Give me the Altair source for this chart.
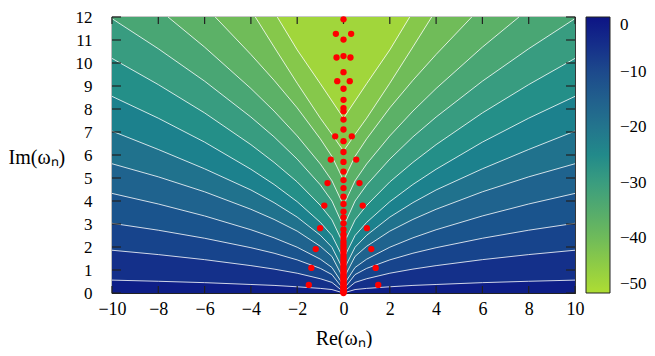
import altair as alt
import pandas as pd

# ---------------- data ----------------
X_TICKS = [-10, -8, -6, -4, -2, 0, 2, 4, 6, 8, 10]
Y_TICKS = [0, 1, 2, 3, 4, 5, 6, 7, 8, 9, 10, 11, 12]
CB_TICKS = [0, -10, -20, -30, -40, -50]

# contour lines, left half (right half is the mirror image), from the axis outwards
C01 = [(0, 0.0), (-0.5, 0.15), (-1, 0.20), (-2, 0.27), (-3, 0.33), (-4, 0.37), (-6, 0.45), (-8, 0.51), (-10, 0.56)]
C02 = [(0, 0.05), (-0.5, 0.46), (-1, 0.62), (-2, 0.86), (-3, 1.04), (-4, 1.19), (-6, 1.45), (-8, 1.67), (-10, 1.86)]
C03 = [(0, 0.16), (-0.5, 0.80), (-1, 1.07), (-2, 1.44), (-3, 1.73), (-4, 1.97), (-6, 2.38), (-8, 2.73), (-10, 3.03)]
C04 = [(0, 0.34), (-0.5, 1.11), (-1, 1.47), (-2, 1.99), (-3, 2.40), (-4, 2.75), (-6, 3.35), (-8, 3.87), (-10, 4.33)]
C05 = [(0, 0.62), (-0.5, 1.59), (-1, 2.03), (-2, 2.69), (-3, 3.20), (-4, 3.64), (-6, 4.40), (-8, 5.05), (-10, 5.62)]
C06 = [(0, 0.99), (-0.5, 1.99), (-1, 2.51), (-2, 3.30), (-3, 3.93), (-4, 4.48), (-6, 5.40), (-8, 6.24), (-10, 7.04)]
C07 = [(0, 1.49), (-0.5, 2.50), (-1, 3.07), (-2, 3.97), (-3, 4.72), (-4, 5.38), (-6, 6.56), (-8, 7.60), (-10, 8.55)]
C08 = [(0, 2.12), (-0.5, 3.18), (-1, 3.81), (-2, 4.83), (-3, 5.68), (-4, 6.45), (-6, 7.83), (-8, 9.06), (-10, 10.20)]
C09 = [(0, 2.89), (-0.5, 4.00), (-1, 4.70), (-2, 5.82), (-3, 6.79), (-4, 7.65), (-6, 9.21), (-8, 10.62), (-10, 11.93)]
C10 = [(0, 3.81), (-0.5, 4.88), (-1, 5.61), (-2, 6.83), (-3, 7.91), (-4, 8.89), (-6, 10.69), (-7.58, 12.0)]
C11 = [(0, 4.90), (-0.5, 5.94), (-1, 6.70), (-2, 8.05), (-3, 9.25), (-4, 10.37), (-5.54, 12.0)]
C12 = [(0, 6.17), (-0.5, 6.90), (-1, 7.60), (-2, 9.12), (-3, 10.70), (-3.81, 12.0)]
C13 = [(0, 7.60), (-0.5, 8.35), (-1, 9.10), (-2, 10.57), (-2.86, 12.0)]
CONTOURS = [C01, C02, C03, C04, C05, C06, C07, C08, C09, C10, C11, C12, C13]

# field value of the band lying above each contour, and below the first one
BASE_VALUE = -1.75
BAND_VALUES = [-5.25, -8.75, -12.25, -15.75, -19.25, -22.75, -26.25, -29.75,
               -33.25, -36.75, -40.25, -43.75, -48.0]

# colour bar
CMAP_VALUES = [-50, -45, -40, -35, -30, -25, -20, -15, -10, -5, 0]
CMAP_COLORS = ["#aedd33", "#8fcc45", "#6fbb5a", "#54ab6d", "#3a9d7f", "#228a8a",
               "#23758d", "#21608d", "#1d4a8c", "#152e8a", "#0d1485"]

# red points
AXIS_POINTS_Y = [11.90, 11.02, 10.30, 9.60, 8.88, 8.40, 8.04, 7.90, 7.54, 7.11, 6.60, 6.13,
                 5.70, 5.28, 4.91, 4.56, 4.19, 3.87, 3.54, 3.29, 3.03, 2.76, 2.55, 2.38,
                 2.22, 2.08, 1.95, 1.82, 1.70, 1.58, 1.47, 1.36, 1.26, 1.16, 1.06, 0.97,
                 0.88, 0.80, 0.72, 0.64, 0.56, 0.49, 0.42, 0.35, 0.29, 0.23, 0.17, 0.12,
                 0.07, 0.03, 0.0]
PAIR_POINTS = [(0.33, 11.27), (0.30, 10.24), (0.27, 9.21), (0.36, 6.81), (0.55, 5.80),
               (0.69, 4.78), (0.83, 3.80), (1.01, 2.82), (1.20, 1.91), (1.39, 1.09),
               (1.50, 0.35)]

# ---------------- tables ----------------
TOP = max(Y_TICKS)
CB_LO, CB_HI = min(CB_TICKS), max(CB_TICKS)
level_tables = []
all_rows = []
for k, pts in enumerate(CONTOURS):
    full = sorted([(x, y) for x, y in pts] + [(-x, y) for x, y in pts if x != 0])
    rows = [{"k": k, "px": x, "py": y, "ptop": TOP, "v": BAND_VALUES[k]} for x, y in full]
    level_tables.append(pd.DataFrame(rows))
    all_rows.extend(rows)
dfc = pd.DataFrame(all_rows)

pts_rows = [{"px": 0.0, "py": y} for y in AXIS_POINTS_Y]
for x, y in PAIR_POINTS:
    pts_rows.append({"px": -x, "py": y})
    pts_rows.append({"px": x, "py": y})
dfp = pd.DataFrame(pts_rows)

base_df = pd.DataFrame([{"px": min(X_TICKS), "px2": max(X_TICKS), "py": min(Y_TICKS),
                         "py2": max(Y_TICKS), "v": BASE_VALUE}])
xt_df = pd.DataFrame({"px": X_TICKS})
yt_df = pd.DataFrame({"py": Y_TICKS})
cbt_df = pd.DataFrame({"t": CB_TICKS[1:-1]})

W, H = 463, 276
FONT = "Liberation Serif"
TXT = "#000000"
FS = 18
TFS = 20

xs = alt.Scale(domain=[min(X_TICKS), max(X_TICKS)], nice=False, zero=False)
ys = alt.Scale(domain=[min(Y_TICKS), max(Y_TICKS)], nice=False, zero=False)
cs = alt.Scale(domain=CMAP_VALUES, range=CMAP_COLORS)

X_AXIS = alt.Axis(values=X_TICKS, title="Re(ωₙ)", ticks=False, domain=False, grid=False,
                  labelFlush=False, labelFont=FONT, labelFontSize=FS, labelColor=TXT,
                  labelPadding=7, titleFont=FONT, titleFontSize=TFS,
                  titleFontWeight="normal", titleColor=TXT, titleY=51,
                  titleBaseline="alphabetic")
Y_AXIS = alt.Axis(values=Y_TICKS, title="Im(ωₙ)", ticks=False, domain=False, grid=False,
                  labelFlush=False, labelFont=FONT, labelFontSize=17, labelColor=TXT,
                  labelPadding=20, titleFont=FONT, titleFontSize=TFS,
                  titleFontWeight="normal", titleColor=TXT, titleAngle=0, titleX=-104,
                  titleY=140, titleAlign="left", titleBaseline="middle")


def X(field):
    return alt.X(field, scale=xs, axis=X_AXIS)


def Y(field, **kw):
    return alt.Y(field, scale=ys, axis=Y_AXIS, **kw)


base = alt.Chart(base_df).mark_rect().encode(
    x=X("px:Q"), x2="px2:Q", y=Y("py:Q"), y2="py2:Q",
    color=alt.Color("v:Q", scale=cs, legend=alt.Legend(
        title=None, orient="none", legendX=474, legendY=0, direction="vertical",
        gradientLength=H, gradientThickness=24, gradientStrokeColor="#222222",
        gradientStrokeWidth=1, values=CB_TICKS, labelFont=FONT, labelFontSize=17,
        labelColor=TXT, labelOffset=10, labelBaseline="middle")),
)

areas = []
for k, tbl in enumerate(level_tables):
    areas.append(
        alt.Chart(tbl).mark_area(interpolate="linear").encode(
            x=X("px:Q"),
            y=Y("py:Q", stack=None),
            y2=alt.Y2("ptop:Q"),
            color=alt.Color("v:Q", scale=cs, legend=None),
        )
    )

lines = alt.Chart(dfc).mark_line(color="white", strokeWidth=1, opacity=0.8).encode(
    x=X("px:Q"), y=Y("py:Q"), detail="k:N",
)

tick_color = "#222222"
xticks_b = alt.Chart(xt_df).mark_rule(color=tick_color, strokeWidth=1.2).encode(
    x=X("px:Q"), y=alt.value(H), y2=alt.value(H - 7))
xticks_t = alt.Chart(xt_df).mark_rule(color=tick_color, strokeWidth=1.2).encode(
    x=X("px:Q"), y=alt.value(0), y2=alt.value(7))
yticks_l = alt.Chart(yt_df).mark_rule(color=tick_color, strokeWidth=1.2).encode(
    y=Y("py:Q"), x=alt.value(0), x2=alt.value(9))
yticks_r = alt.Chart(yt_df).mark_rule(color=tick_color, strokeWidth=1.2).encode(
    y=Y("py:Q"), x=alt.value(W), x2=alt.value(W - 9))

# small dashes inside the colour bar, placed through the y scale
CB_CALC = f"(datum.t - ({CB_LO})) / ({CB_HI} - ({CB_LO})) * {TOP}"
cb_ticks_l = alt.Chart(cbt_df).transform_calculate(py=CB_CALC).mark_rule(
    color="#333333", strokeWidth=1.2).encode(y=Y("py:Q"), x=alt.value(474), x2=alt.value(480))
cb_ticks_r = alt.Chart(cbt_df).transform_calculate(py=CB_CALC).mark_rule(
    color="#333333", strokeWidth=1.2).encode(y=Y("py:Q"), x=alt.value(492), x2=alt.value(498))

points = alt.Chart(dfp).mark_circle(size=40, color="#ff0000", opacity=1).encode(
    x=X("px:Q"), y=Y("py:Q"),
)

chart = alt.layer(base, *areas, lines, xticks_b, xticks_t, yticks_l, yticks_r,
                  cb_ticks_l, cb_ticks_r, points).properties(
    width=W, height=H,
    padding={"left": 104, "top": 9, "right": 72, "bottom": 55},
    autosize=alt.AutoSizeParams(type="none"),
).configure_view(stroke="#222222", strokeWidth=1.2)

chart.save("out.html", embed_options={"renderer": "svg", "actions": False})
